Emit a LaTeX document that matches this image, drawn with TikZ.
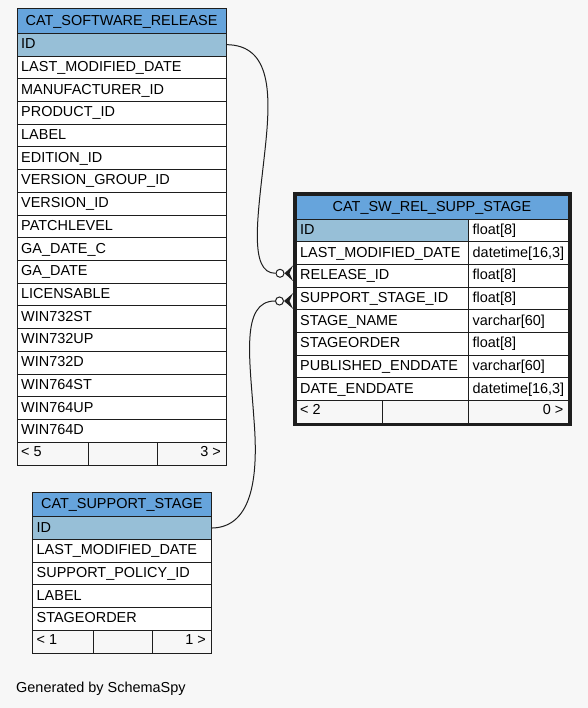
\documentclass[tikz,border=0pt]{standalone}
\usepackage{fontspec}
\setmainfont{Liberation Sans}
\definecolor{bg}{HTML}{F7F7F7}
\definecolor{hdr}{HTML}{66A4DC}
\definecolor{idc}{HTML}{97BFD7}
\definecolor{ln}{HTML}{1E1E1E}
\newcommand\mkcell[6]{\node[cellbox, fill=#6, minimum width=#4bp, minimum height=#5bp] (#1) at (#2,#3) {};}
\begin{document}
\begin{tikzpicture}[x=1bp,y=-1bp,
  cellbox/.style={draw=ln, line width=1bp, inner sep=0pt, outer sep=0pt, anchor=north west},
  txt/.style={anchor=base west, inner sep=0pt, font=\fontsize{14.5}{16}\selectfont},
  txtr/.style={anchor=base east, inner sep=0pt, font=\fontsize{14.5}{16}\selectfont},
  htxt/.style={anchor=base, inner sep=0pt, font=\fontsize{14.5}{16}\selectfont},
  odot/.style={circle, draw=ln, fill=white, line width=1bp, minimum size=8bp, inner sep=0pt},
  conn/.style={draw=ln, line width=1bp},
  crow/.style={fill=ln}]
\fill[bg] (0,0) rectangle (588,708);
\useasboundingbox (0,0) rectangle (588,708);

% ---------- CAT_SOFTWARE_RELEASE ----------
\mkcell{t1h}{17}{9}{209}{24.3}{hdr}
\node[htxt] (t1ht) at (121.5,25.5) {CAT\_SOFTWARE\_RELEASE};
\mkcell{t1id}{17}{33.3}{209}{22.72}{idc}
\node[txt] (t1idt) at (21,48.6) {ID};
\foreach [count=\i] \t in {LAST\_MODIFIED\_DATE,MANUFACTURER\_ID,PRODUCT\_ID,LABEL,EDITION\_ID,VERSION\_GROUP\_ID,VERSION\_ID,PATCHLEVEL,GA\_DATE\_C,GA\_DATE,LICENSABLE,WIN732ST,WIN732UP,WIN732D,WIN764ST,WIN764UP,WIN764D}{
  \pgfmathsetmacro\yt{33.3+\i*22.72}
  \mkcell{t1r\i}{17}{\yt}{209}{22.72}{white}
  \node[txt] (t1t\i) at (21,\yt+15.3) {\t};
}
\mkcell{t1f1}{17}{442.26}{71}{22.74}{bg}
\mkcell{t1f2}{88}{442.26}{69}{22.74}{bg}
\mkcell{t1f3}{157}{442.26}{69}{22.74}{bg}
\node[txt] (t1fl) at (21,456.5) {< 5};
\node[txtr] (t1fr) at (221,456.5) {3 >};

% ---------- CAT_SUPPORT_STAGE ----------
\mkcell{t2h}{32.5}{492.3}{178.5}{24.4}{hdr}
\node[htxt] (t2ht) at (121.75,508.8) {CAT\_SUPPORT\_STAGE};
\mkcell{t2id}{32.5}{516.7}{178.5}{22.7}{idc}
\node[txt] (t2idt) at (36.5,532) {ID};
\foreach [count=\i] \t in {LAST\_MODIFIED\_DATE,SUPPORT\_POLICY\_ID,LABEL,STAGEORDER}{
  \pgfmathsetmacro\yt{516.7+\i*22.7}
  \mkcell{t2r\i}{32.5}{\yt}{178.5}{22.7}{white}
  \node[txt] (t2t\i) at (36.5,\yt+15.3) {\t};
}
\mkcell{t2f1}{32.5}{630.2}{60.5}{22.8}{bg}
\mkcell{t2f2}{93}{630.2}{59}{22.8}{bg}
\mkcell{t2f3}{152}{630.2}{59}{22.8}{bg}
\node[txt] (t2fl) at (36.5,644.4) {< 1};
\node[txtr] (t2fr) at (206,644.4) {1 >};

% ---------- CAT_SW_REL_SUPP_STAGE ----------
\mkcell{t3h}{296}{195.5}{272}{23.5}{hdr}
\node[htxt] (t3ht) at (432,211) {CAT\_SW\_REL\_SUPP\_STAGE};
\mkcell{t3id}{296}{219}{172}{22.7}{idc}
\mkcell{t3idty}{468}{219}{100}{22.7}{white}
\node[txt] (t3idt) at (300,234.3) {ID};
\node[txt] (t3idtt) at (472.5,234.3) {float[8]};
\foreach [count=\i] \t/\ty in {LAST\_MODIFIED\_DATE/{datetime[16,3]},RELEASE\_ID/{float[8]},SUPPORT\_STAGE\_ID/{float[8]},STAGE\_NAME/{varchar[60]},STAGEORDER/{float[8]},PUBLISHED\_ENDDATE/{varchar[60]},DATE\_ENDDATE/{datetime[16,3]}}{
  \pgfmathsetmacro\yt{219+\i*22.7}
  \mkcell{t3r\i}{296}{\yt}{172}{22.7}{white}
  \mkcell{t3y\i}{468}{\yt}{100}{22.7}{white}
  \node[txt] (t3t\i) at (300,\yt+15.3) {\t};
  \node[txt] (t3u\i) at (472.5,\yt+15.3) {\ty};
}
\mkcell{t3f1}{296}{400}{86}{23}{bg}
\mkcell{t3f2}{382}{400}{86}{23}{bg}
\mkcell{t3f3}{468}{400}{100}{23}{bg}
\node[txt] (t3fl) at (300,414.5) {< 2};
\node[txtr] (t3fr) at (563.5,414.5) {0 >};
\draw[ln, line width=3.5bp] (294.75,193.75) rectangle (570.25,424.25);

% ---------- connectors ----------
\node[odot] (o1) at (280,273.3) {};
\node[odot] (o2) at (279.5,301) {};
\draw[conn] (t1id.east) .. controls (272,44.7) and (271,95) .. (265,150)
  .. controls (258,215) and (248,273.3) .. (o1.west);
\draw[conn] (t2id.east) .. controls (255,528) and (258,470) .. (254,420)
  .. controls (250,360) and (240,301) .. (o2.west);
\fill[crow] (o1.east) -- (293,265.5) -- (289.5,273.3) -- (293,281) -- cycle;
\fill[crow] (o2.east) -- (293,293.2) -- (289.5,301) -- (293,308.8) -- cycle;

\node[txt] (gen) at (16,692) {Generated by SchemaSpy};
\end{tikzpicture}
\end{document}
